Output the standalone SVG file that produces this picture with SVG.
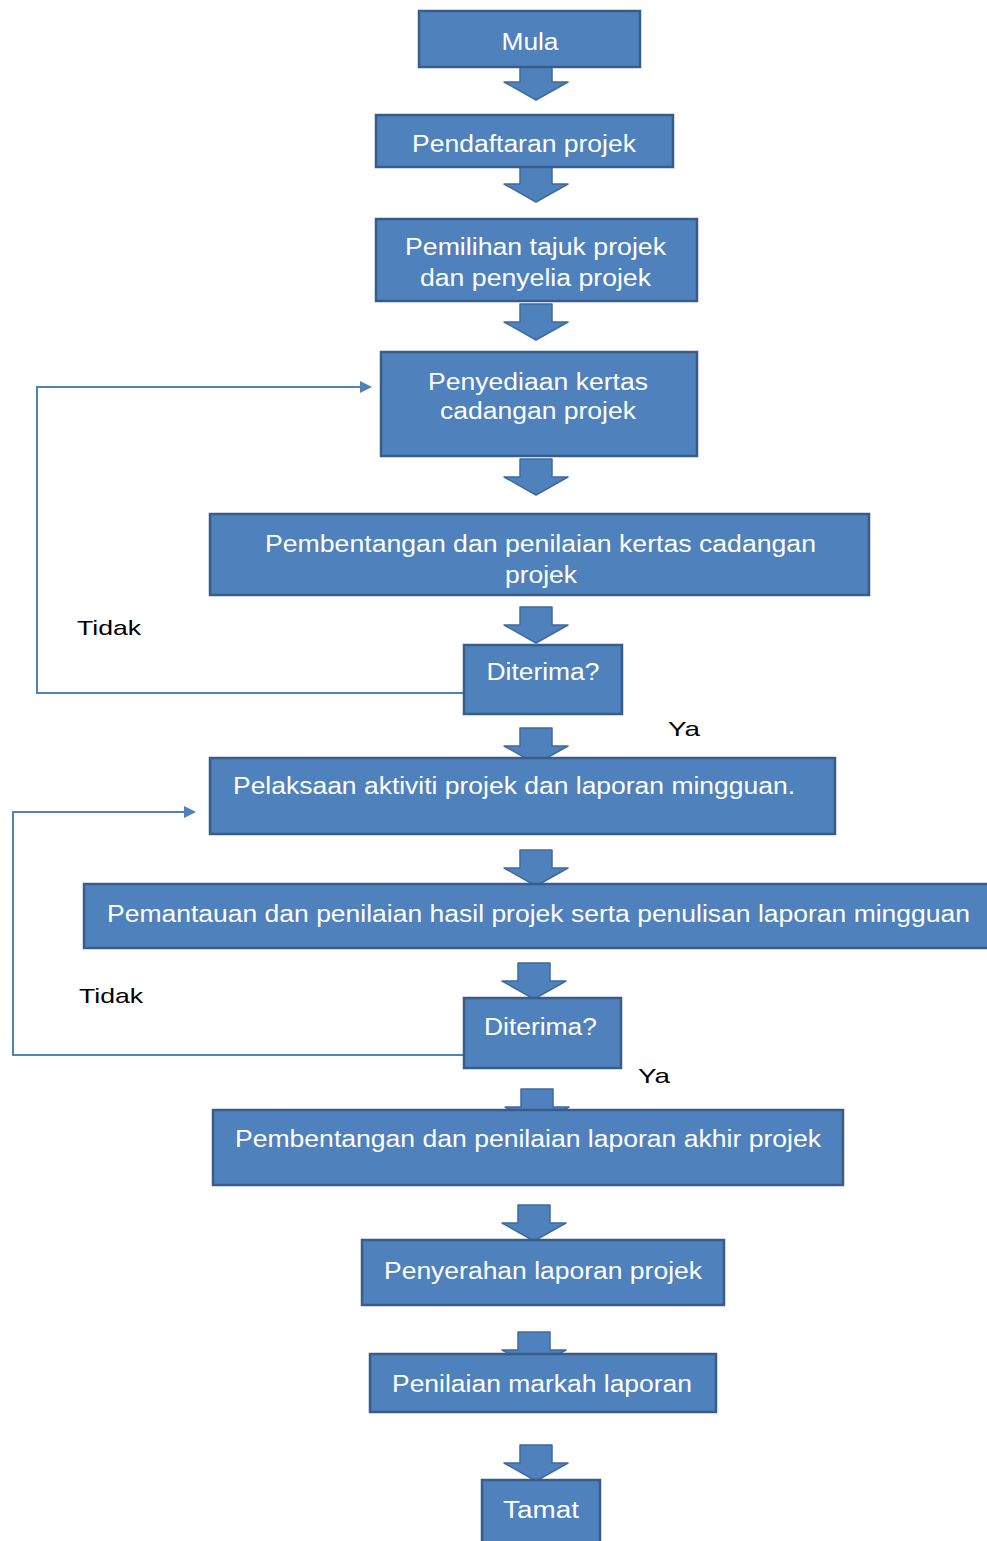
<svg xmlns="http://www.w3.org/2000/svg" width="987" height="1541" viewBox="0 0 987 1541">
<style>
.box{fill:#4F81BD;stroke:#385D8A;stroke-width:2.5}
.blk{fill:#4F81BD;stroke:#3F6A9E;stroke-width:1.5;stroke-linejoin:round}
.fb{fill:none;stroke:#4F81BD;stroke-width:2}
.t{font-family:"Liberation Sans",Arial,sans-serif;font-size:23px;fill:#FFFFFF;text-anchor:middle}
.l{font-family:"Liberation Sans",Arial,sans-serif;font-size:21px;fill:#000000}
</style>
<defs>
<path id="arr" d="M-16,0 h32 v18 h16 l-32,18 l-32,-18 h16 z"/>
<marker id="tip" markerWidth="12" markerHeight="12" refX="10" refY="6" orient="auto" markerUnits="userSpaceOnUse">
<path d="M0,0 L12,6 L0,12 z" fill="#4F81BD"/>
</marker>
</defs>
<rect width="987" height="1541" fill="#FFFFFF"/>
<g id="connectors">
<use href="#arr" class="blk" transform="translate(536,64)"/>
<use href="#arr" class="blk" transform="translate(536,166)"/>
<use href="#arr" class="blk" transform="translate(536,304)"/>
<use href="#arr" class="blk" transform="translate(536,459)"/>
<use href="#arr" class="blk" transform="translate(536,607)"/>
<use href="#arr" class="blk" transform="translate(536,728)"/>
<use href="#arr" class="blk" transform="translate(536,850)"/>
<use href="#arr" class="blk" transform="translate(534,963)"/>
<use href="#arr" class="blk" transform="translate(537,1089)"/>
<use href="#arr" class="blk" transform="translate(534,1205)"/>
<use href="#arr" class="blk" transform="translate(534,1332)"/>
<use href="#arr" class="blk" transform="translate(536,1445)"/>
<polyline class="fb" points="464,693 37,693 37,387 370,387" marker-end="url(#tip)"/>
<polyline class="fb" points="464,1055 13,1055 13,812 194,812" marker-end="url(#tip)"/>
</g>
<g id="n-mula"><rect class="box" x="419" y="11" width="221" height="56"/><text class="t" x="530" y="50" textLength="57" lengthAdjust="spacingAndGlyphs">Mula</text></g>
<g id="n-pendaftaran"><rect class="box" x="376" y="115" width="297" height="52"/><text class="t" x="524" y="152" textLength="224" lengthAdjust="spacingAndGlyphs">Pendaftaran projek</text></g>
<g id="n-pemilihan"><rect class="box" x="376" y="219" width="321" height="82"/><text class="t" x="535.5" y="255" textLength="261" lengthAdjust="spacingAndGlyphs">Pemilihan tajuk projek</text><text class="t" x="535.5" y="286" textLength="231" lengthAdjust="spacingAndGlyphs">dan penyelia projek</text></g>
<g id="n-penyediaan"><rect class="box" x="381" y="352" width="316" height="104"/><text class="t" x="538" y="390" textLength="220" lengthAdjust="spacingAndGlyphs">Penyediaan kertas</text><text class="t" x="538" y="419" textLength="196" lengthAdjust="spacingAndGlyphs">cadangan projek</text></g>
<g id="n-pembentangan1"><rect class="box" x="210" y="514" width="659" height="81"/><text class="t" x="540.5" y="552" textLength="551" lengthAdjust="spacingAndGlyphs">Pembentangan dan penilaian kertas cadangan</text><text class="t" x="541" y="583" textLength="72" lengthAdjust="spacingAndGlyphs">projek</text></g>
<g id="n-diterima1"><rect class="box" x="464" y="645" width="158" height="69"/><text class="t" x="543" y="680" textLength="113" lengthAdjust="spacingAndGlyphs">Diterima?</text></g>
<g id="n-pelaksaan"><rect class="box" x="210" y="758" width="625" height="76"/><text class="t" x="514" y="794" textLength="562" lengthAdjust="spacingAndGlyphs">Pelaksaan aktiviti projek dan laporan mingguan.</text></g>
<g id="n-pemantauan"><rect class="box" x="84" y="884" width="910" height="64"/><text class="t" x="538.5" y="922" textLength="863" lengthAdjust="spacingAndGlyphs">Pemantauan dan penilaian hasil projek serta penulisan laporan mingguan</text></g>
<g id="n-diterima2"><rect class="box" x="464" y="998" width="157" height="70"/><text class="t" x="540.5" y="1035" textLength="113" lengthAdjust="spacingAndGlyphs">Diterima?</text></g>
<g id="n-pembentangan2"><rect class="box" x="213" y="1110" width="630" height="75"/><text class="t" x="528" y="1147" textLength="586" lengthAdjust="spacingAndGlyphs">Pembentangan dan penilaian laporan akhir projek</text></g>
<g id="n-penyerahan"><rect class="box" x="362" y="1240" width="362" height="65"/><text class="t" x="543" y="1279" textLength="318" lengthAdjust="spacingAndGlyphs">Penyerahan laporan projek</text></g>
<g id="n-penilaian"><rect class="box" x="370" y="1354" width="346" height="58"/><text class="t" x="542" y="1392" textLength="300" lengthAdjust="spacingAndGlyphs">Penilaian markah laporan</text></g>
<g id="n-tamat"><rect class="box" x="482" y="1480" width="118" height="70"/><text class="t" x="541" y="1518" textLength="76" lengthAdjust="spacingAndGlyphs">Tamat</text></g>
<g id="labels">
<text class="l" x="77" y="635" textLength="64" lengthAdjust="spacingAndGlyphs">Tidak</text>
<text class="l" x="79" y="1003" textLength="64" lengthAdjust="spacingAndGlyphs">Tidak</text>
<text class="l" x="668" y="736" textLength="32" lengthAdjust="spacingAndGlyphs">Ya</text>
<text class="l" x="638" y="1083" textLength="32" lengthAdjust="spacingAndGlyphs">Ya</text>
</g>
</svg>
